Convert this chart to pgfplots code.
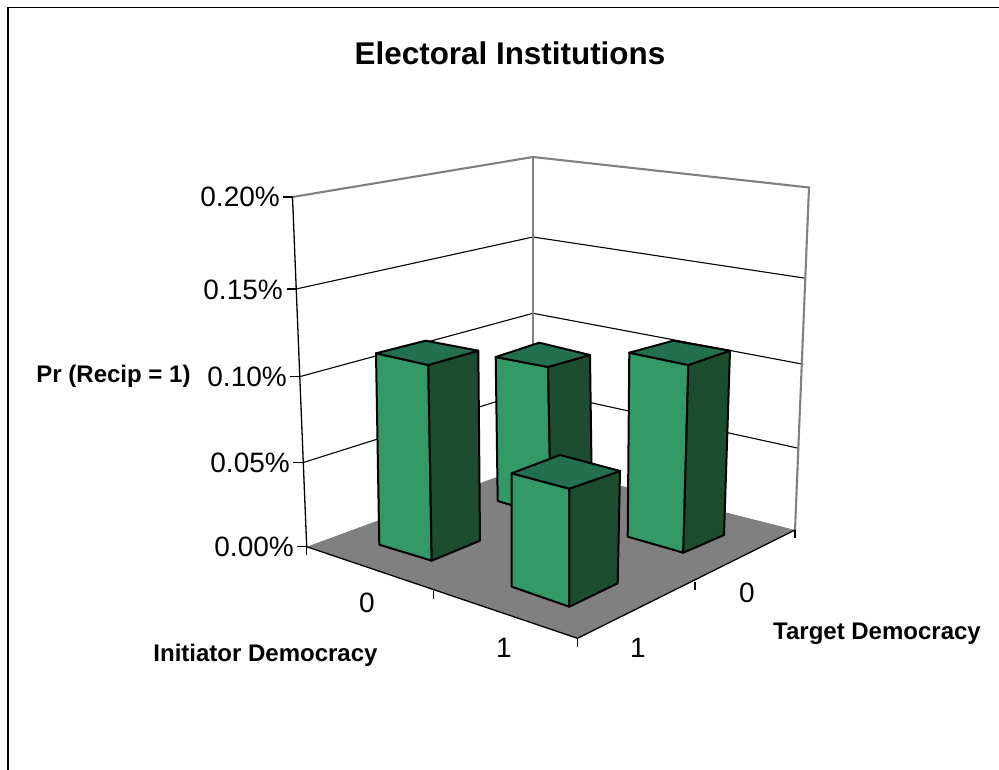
\documentclass[border=0pt]{standalone}
\usepackage{pgfplots}
\pgfplotsset{compat=1.18}
\usepackage{fontspec}
\setmainfont{Liberation Sans}
\definecolor{barfront}{HTML}{339966}
\definecolor{barside}{HTML}{1B4D2E}
\definecolor{bartop}{HTML}{227050}
\definecolor{floorgray}{HTML}{808080}
\pgfplotsset{
  face/.style={fill=#1, draw=black, line width=2pt, line join=round},
  grid line/.style={draw=black, line width=1.1pt},
  wall edge/.style={draw=floorgray, line width=2.1pt},
  tick mark/.style={draw=black, line width=1.1pt},
}
\newcommand{\ticklabel}[1]{\fontsize{28}{28}\selectfont #1}
\newcommand{\axislabel}[1]{\fontsize{24}{25}\selectfont\bfseries #1}
\begin{document}
\begin{tikzpicture}[x=1pt,y=1pt]
\useasboundingbox (0,0) rectangle (999,770);
\begin{axis}[
  at={(0,0)}, anchor=south west,
  scale only axis, width=999pt, height=770pt,
  xmin=0, xmax=999, ymin=0, ymax=770, y dir=reverse,
  hide axis, clip=false,
]
% chart frame
\addplot[draw=black, line width=1.7pt] coordinates {(8,770) (8,7.5) (999,7.5)};

% floor
\addplot[fill=floorgray, draw=none] coordinates {(306.7,546.7) (533.5,463.5) (795,530) (577.5,638.3)} -- cycle;

% value gridlines on the two back walls
\addplot[grid line] coordinates {(302.7,462.7) (533,390) (798.7,448.3)};
\addplot[grid line] coordinates {(299.5,376.7) (533,313.3) (803.3,364.3)};
\addplot[grid line] coordinates {(296,289) (533,237) (806,278.3)};
\addplot[wall edge] coordinates {(533,157) (533,463.5)};
\addplot[wall edge] coordinates {(292.5,197) (533,157) (809,187.5) (795,530)};
\addplot[draw=black, line width=1.3pt] coordinates {(292.5,197) (306.7,546.7)};

% axis tick marks
\addplot[tick mark] coordinates {(283,197) (292.5,197)};
\addplot[tick mark] coordinates {(286.5,289) (296,289)};
\addplot[tick mark] coordinates {(290,376.7) (299.5,376.7)};
\addplot[tick mark] coordinates {(293,462.7) (302.7,462.7)};
\addplot[tick mark] coordinates {(297,546.7) (306.7,546.7)};
\addplot[tick mark] coordinates {(306.7,546.7) (306.7,555)};
\addplot[tick mark] coordinates {(433.7,591) (433.7,599)};
\addplot[tick mark] coordinates {(577.5,638.3) (577.5,647)};
\addplot[tick mark] coordinates {(695,582) (695,590)};
\addplot[tick mark] coordinates {(795,530) (795,538)};
\addplot[draw=black, line width=1.3pt] coordinates {(306.7,546.7) (577.5,638.3) (795,530)};

% bar: initiator 0, target 0
\addplot[face=barfront] coordinates {(495.7,357) (548,367) (551,517) (497.7,501)} -- cycle;
\addplot[face=barside] coordinates {(548,367) (590,355) (592,504) (551,517)} -- cycle;
\addplot[face=bartop] coordinates {(495.7,357) (539.3,342.7) (590,355) (548,367)} -- cycle;

% bar: initiator 0, target 1
\addplot[face=barfront] coordinates {(376,353.3) (428.3,365) (431.7,560.7) (379.3,544.7)} -- cycle;
\addplot[face=barside] coordinates {(428.3,365) (478.3,350.7) (480,540.7) (431.7,560.7)} -- cycle;
\addplot[face=bartop] coordinates {(376,353.3) (425.7,340.7) (478.3,350.7) (428.3,365)} -- cycle;

% bar: initiator 1, target 0
\addplot[face=barfront] coordinates {(629.3,352.7) (688.3,365) (683.3,552.7) (627.7,536.7)} -- cycle;
\addplot[face=barside] coordinates {(688.3,365) (730,350.7) (724,535) (683.3,552.7)} -- cycle;
\addplot[face=bartop] coordinates {(629.3,352.7) (673.3,340.7) (730,350.7) (688.3,365)} -- cycle;

% bar: initiator 1, target 1
\addplot[face=barfront] coordinates {(511.7,473.3) (569.3,488.7) (569.3,606.7) (511.7,586.7)} -- cycle;
\addplot[face=barside] coordinates {(569.3,488.7) (620,471) (617.7,583.3) (569.3,606.7)} -- cycle;
\addplot[face=bartop] coordinates {(511.7,473.3) (560,455) (620,471) (569.3,488.7)} -- cycle;

% title and labels
\node[anchor=center] at (510,53) {\fontsize{31.4}{32}\selectfont\bfseries Electoral Institutions};
\node[anchor=east, inner sep=0pt] at (280,197) {\ticklabel{0.20\%}};
\node[anchor=east, inner sep=0pt] at (283,290) {\ticklabel{0.15\%}};
\node[anchor=east, inner sep=0pt] at (287,377) {\ticklabel{0.10\%}};
\node[anchor=east, inner sep=0pt] at (290,463) {\ticklabel{0.05\%}};
\node[anchor=east, inner sep=0pt] at (294,547) {\ticklabel{0.00\%}};
\node[anchor=center, inner sep=0pt] at (367,603) {\ticklabel{0}};
\node[anchor=center, inner sep=0pt] at (504,648) {\ticklabel{1}};
\node[anchor=center, inner sep=0pt] at (747,593) {\ticklabel{0}};
\node[anchor=center, inner sep=0pt] at (638,648) {\ticklabel{1}};
\node[anchor=center, inner sep=0pt] at (113.5,376) {\axislabel{Pr (Recip = 1)}};
\node[anchor=center, inner sep=0pt] at (265.5,655) {\axislabel{Initiator Democracy}};
\node[anchor=center, inner sep=0pt] at (877,634) {\axislabel{Target Democracy}};
\end{axis}
\end{tikzpicture}
\end{document}
